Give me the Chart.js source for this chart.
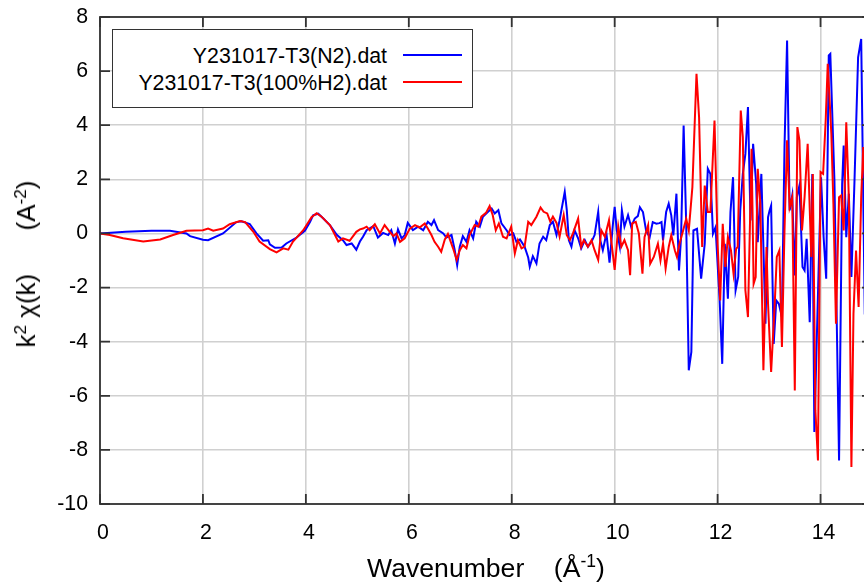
<!DOCTYPE html>
<html lang="en">
<head>
<meta charset="UTF-8">
<title>k2 chi(k) - Y231017-T3</title>
<script src="https://cdn.jsdelivr.net/npm/chart.js"></script>
<style>
    html, body {
        margin: 0;
        padding: 0;
        overflow: hidden;
        background: #fff;
    }

    .wrap {
        position: relative;
        width: 880px;
        height: 585px;
        font-family: "Liberation Sans", Arial, sans-serif;
        color: #000;
    }

    .legend {
        position: absolute;
        left: 112px;
        top: 29px;
        width: 361px;
        height: 79px;
        box-sizing: border-box;
        border: 1.6px solid #333;
        background: #fff;
        font-size: 21.3px;
    }

    .legend .row {
        position: absolute;
        left: 0;
        height: 26px;
        line-height: 26px;
        width: 100%;
    }

    .legend .txt {
        position: absolute;
        left: 0;
        width: 274px;
        text-align: right;
        white-space: nowrap;
    }

    .legend .swatch {
        position: absolute;
        left: 290px;
        width: 59px;
        height: 2px;
    }

    .xtitle {
        position: absolute;
        left: 486px;
        top: 553px;
        transform: translateX(-50%);
        font-size: 26.6px;
        line-height: 30px;
        white-space: pre;
    }

    .ytitle {
        position: absolute;
        left: 26px;
        top: 264px;
        transform: translate(-50%, -50%) rotate(-90deg);
        font-size: 26px;
        line-height: 30px;
        white-space: pre;
    }

    sup {
        font-size: 0.66em;
        line-height: 0;
        vertical-align: 0.55em;
    }
</style>
</head>
<body>
<div class="wrap">
    <canvas id="chi" width="880" height="585"></canvas>
    <div class="legend" id="legend"></div>
    <div class="ytitle">k<sup>2</sup> χ(k)      (A<sup>-2</sup>)</div>
    <div class="xtitle">Wavenumber    (Å<sup>-1</sup>)</div>
</div>

<script>
    // wavenumber k (1/A) and k^2 chi(k)
    const kN2 = [0, 0.5, 1.0, 1.36, 1.68, 1.75, 2.0, 2.1, 2.39, 2.65, 2.75, 2.91, 3.04, 3.17, 3.27, 3.3, 3.4, 3.53, 3.62, 3.82,
        3.98, 4.08, 4.14, 4.24, 4.34, 4.47, 4.6, 4.72, 4.79, 4.89, 4.98, 5.05, 5.11, 5.18, 5.31, 5.40, 5.50, 5.60, 5.66, 5.73,
        5.79, 5.86, 5.92, 5.98, 6.08, 6.18, 6.28, 6.37, 6.44, 6.49, 6.57, 6.67, 6.73, 6.83, 6.89, 6.94, 6.99, 7.05, 7.12, 7.18,
        7.25, 7.31, 7.38, 7.44, 7.54, 7.61, 7.67, 7.74, 7.80, 7.90, 7.96, 8.03, 8.09, 8.16, 8.25, 8.32, 8.35, 8.41, 8.48, 8.54,
        8.61, 8.67, 8.74, 8.80, 8.87, 8.93, 9.03, 9.07, 9.11, 9.16, 9.22, 9.29, 9.35, 9.42, 9.48, 9.55, 9.61, 9.68, 9.72, 9.77,
        9.84, 9.90, 9.97, 10.00, 10.04, 10.10, 10.14, 10.19, 10.26, 10.32, 10.39, 10.45, 10.49, 10.55, 10.61, 10.68, 10.74, 10.81, 10.87, 10.91,
        10.94, 11.0, 11.05, 11.1, 11.14, 11.2, 11.25, 11.29, 11.34, 11.39, 11.44, 11.49, 11.53, 11.6, 11.68, 11.75, 11.81, 11.86, 11.91, 11.96,
        12.04, 12.09, 12.14, 12.2, 12.25, 12.3, 12.35, 12.4, 12.44, 12.49, 12.54, 12.59, 12.64, 12.69, 12.75, 12.78, 12.85, 12.89, 12.93, 12.98,
        13.01, 13.04, 13.09, 13.14, 13.19, 13.25, 13.3, 13.35, 13.4, 13.45, 13.5, 13.54, 13.59, 13.65, 13.69, 13.73, 13.79, 13.84, 13.88, 14.01,
        14.06, 14.11, 14.16, 14.19, 14.27, 14.36, 14.42, 14.45, 14.5, 14.55, 14.6, 14.66, 14.73, 14.79, 14.86, 14.95];
    const chiN2 = [0, 0.06, 0.1, 0.1, 0, -0.1, -0.23, -0.25, 0, 0.42, 0.45, 0.35, 0, -0.27, -0.25, -0.4, -0.53, -0.52, -0.37, -0.15,
        0.1, 0.42, 0.67, 0.73, 0.55, 0.3, -0.05, -0.25, -0.43, -0.37, -0.6, -0.3, -0.12, 0.12, 0.27, -0.15, 0.02, -0.06, 0.12, -0.37,
        0.15, -0.18, -0.06, 0.39, 0.12, 0.25, 0.12, 0.43, 0.31, 0.49, 0.12, 0, -0.15, -0.06, -0.59, -1.17, -0.49, -0.1, -0.31, 0.12,
        -0.18, 0.43, 0.25, 0.62, 0.8, 0.92, 0.74, 0.86, 0.37, 0.12, -0.06, 0, -0.31, -0.22, -0.49, -0.89, -1.23, -0.84, -1.11, -0.37,
        -0.12, -0.25, 0.31, 0.43, -0.06, 0.49, 1.54, 0.86, -0.25, -0.49, 0.12, -0.18, -0.55, -0.25, -0.49, -0.31, -0.06, 0.8, -0.25, -0.62,
        0, -1.08, 0.43, 0.98, 0.12, -0.49, 0.86, 0.25, 0.68, 0.25, 0.55, 0.64, 0.97, 0.79, 0.11, -0.14, 0.42, 0.36, 0.38, 0.42,
        -0.26, 0.79, 1.1, 0.67, -0.07, 1.47, -1.37, -0.14, 3.99, 0.36, -5.06, -4.38, 0.11, 0.17, -1.67, -0.38, 2.39, 2.2, -0.01, 0.23,
        -2.48, -4.82, -0.38, -2.41, 0.79, 2.08, -2.1, -1.61, 0.85, 2.2, 2.94, 4.67, 0.48, 3.31, 1.83, -0.32, 2.2, -0.5, -3.34, 0.6,
        0.85, 1.03, -4.08, -2.48, -2.6, -3.09, 3.19, 7.13, 0.85, 1.4, -1.55, 1.34, 1.77, -1.24, -1.37, -0.2, -3.28, 2.2, -7.34, 2.08,
        -0.14, -1.67, 6.58, 6.64, 1.96, -8.39, 1.83, 3.25, -0.14, 1.47, -1.61, 1.96, 6.51, 7.19, -3.0, 1.0];

    const kH2 = [0, 0.19, 0.45, 0.84, 1.17, 1.42, 1.68, 2.0, 2.1, 2.2, 2.39, 2.52, 2.72, 2.82, 2.98, 3.1, 3.3, 3.43, 3.56, 3.66,
        3.75, 3.95, 4.11, 4.21, 4.3, 4.47, 4.63, 4.72, 4.85, 4.98, 5.05, 5.11, 5.18, 5.24, 5.34, 5.44, 5.53, 5.63, 5.70, 5.76,
        5.83, 5.92, 6.02, 6.12, 6.21, 6.31, 6.37, 6.44, 6.5, 6.57, 6.63, 6.7, 6.76, 6.86, 6.93, 6.99, 7.05, 7.12, 7.18, 7.28,
        7.35, 7.41, 7.5, 7.57, 7.63, 7.69, 7.75, 7.83, 7.9, 7.99, 8.06, 8.12, 8.19, 8.25, 8.32, 8.38, 8.48, 8.56, 8.62, 8.69,
        8.75, 8.8, 8.87, 8.93, 9.01, 9.07, 9.13, 9.19, 9.29, 9.35, 9.4, 9.48, 9.55, 9.61, 9.68, 9.74, 9.81, 9.89, 9.94, 10.0,
        10.07, 10.13, 10.19, 10.26, 10.3, 10.34, 10.41, 10.47, 10.54, 10.58, 10.65, 10.69, 10.76, 10.84, 10.89, 10.94, 10.99, 11.05, 11.1, 11.17,
        11.21, 11.26, 11.33, 11.39, 11.44, 11.51, 11.59, 11.64, 11.7, 11.75, 11.81, 11.86, 11.94, 12.0, 12.05, 12.1, 12.15, 12.2, 12.26, 12.31,
        12.36, 12.39, 12.45, 12.49, 12.54, 12.59, 12.66, 12.7, 12.74, 12.78, 12.83, 12.89, 12.95, 12.98, 13.04, 13.11, 13.15, 13.2, 13.25, 13.3,
        13.35, 13.4, 13.45, 13.5, 13.55, 13.59, 13.64, 13.69, 13.75, 13.82, 13.85, 13.9, 13.95, 14.0, 14.05, 14.1, 14.14, 14.21, 14.25, 14.3,
        14.36, 14.4, 14.45, 14.5, 14.55, 14.6, 14.64, 14.69, 14.74, 14.79, 14.83, 14.9];
    const chiH2 = [0, -0.06, -0.18, -0.3, -0.22, -0.06, 0.1, 0.12, 0.18, 0.1, 0.18, 0.34, 0.46, 0.42, 0.06, -0.3, -0.58, -0.7, -0.55, -0.6,
        -0.3, 0.12, 0.6, 0.75, 0.63, 0.3, -0.3, -0.18, -0.27, 0.06, 0.15, 0.18, 0.25, 0.12, 0.34, 0, 0.31, 0.06, -0.1, 0,
        -0.31, -0.18, 0.18, 0.31, 0.22, 0.37, 0.18, -0.06, -0.31, -0.49, -0.68, -0.22, -0.02, -0.55, -0.98, -0.62, -0.43, -0.55, -0.06, 0.31,
        0.25, 0.62, 0.76, 1.01, 0.68, 0.12, 0.37, -0.12, -0.18, 0.25, -0.74, -0.25, -0.55, -0.49, 0.43, 0.31, 0.62, 0.96, 0.8, 0.74,
        0.43, 0.62, 0.39, -0.12, 0.68, -0.06, -0.25, 0, 0.55, -0.49, -0.25, -0.49, -0.25, -0.62, -0.98, 0.12, -0.12, 0.49, -0.37, -1.35,
        0.25, -0.49, -0.25, -0.62, -1.54, 0.37, 0.43, 0, -1.49, -0.14, 0.3, -1.12, -0.87, -0.38, -1.0, -0.38, -1.3, -0.5, -0.07, -0.63,
        -0.87, -0.38, 0.11, 0.54, 0.11, 1.71, 5.9, 4.3, -0.5, 1.77, 0.79, 0.79, 4.17, -0.38, -2.48, 0.36, -1.24, -0.14, -0.63, -1.49,
        -0.57, -0.5, 4.54, 3.56, -2.1, -3.09, 3.13, -1.86, -1.61, 2.39, 1.1, -5.06, -0.5, -2.6, -5.12, -2.6, -0.87, -0.63, -4.2, 0.11,
        3.44, 0.97, 1.34, -5.8, 3.93, 3.44, 0.11, 1.34, 3.31, -0.87, 2.2, -6.54, -8.39, 2.27, 2.2, 4.17, 6.27, 3.68, 1.1, -3.34,
        1.34, 1.4, 0.11, 4.11, 1.34, -8.63, -2.97, -0.63, -2.72, 1.34, 3.19, 0.5];

    const seriesNames = ['Y231017-T3(N2).dat', 'Y231017-T3(100%H2).dat'];
    const seriesColors = ['#0000ff', '#ff0000'];

    const xTicksMin = 0, xTicksMax = 15, xStep = 2;
    const yTicksMin = -10, yTicksMax = 8, yStep = 2;

    function toPoints(ks, vals) {
        return ks.map((k, i) => ({ x: k, y: vals[i] }));
    }

    const tickFont = { family: '"Liberation Sans", Arial, sans-serif', size: 21.3 };

    // box round the plot with small inward ticks on all four sides
    const frameBox = {
        id: 'frameBox',
        afterDatasetsDraw(chart) {
            const { ctx, chartArea: a, scales } = chart;
            ctx.save();
            ctx.strokeStyle = '#333';
            ctx.lineWidth = 1.8;
            ctx.strokeRect(a.left, a.top, a.right - a.left, a.bottom - a.top);
            ctx.beginPath();
            scales.x.ticks.forEach(t => {
                const px = scales.x.getPixelForValue(t.value);
                ctx.moveTo(px, a.bottom);
                ctx.lineTo(px, a.bottom - 10);
                ctx.moveTo(px, a.top);
                ctx.lineTo(px, a.top + 10);
            });
            scales.y.ticks.forEach(t => {
                const py = scales.y.getPixelForValue(t.value);
                ctx.moveTo(a.left, py);
                ctx.lineTo(a.left + 10, py);
                ctx.moveTo(a.right, py);
                ctx.lineTo(a.right - 10, py);
            });
            ctx.stroke();
            ctx.restore();
        }
    };

    const chiChart = new Chart(document.getElementById('chi'), {
        type: 'line',
        data: {
            datasets: [{
                label: seriesNames[0],
                data: toPoints(kN2, chiN2),
                borderColor: seriesColors[0],
                borderWidth: 2,
                pointRadius: 0,
                order: 1
            }, {
                label: seriesNames[1],
                data: toPoints(kH2, chiH2),
                borderColor: seriesColors[1],
                borderWidth: 2,
                pointRadius: 0,
                order: 0
            }]
        },
        options: {
            responsive: false,
            animation: false,
            layout: { padding: { top: 17, right: 8 } },
            plugins: {
                legend: { display: false },
                tooltip: { enabled: false }
            },
            scales: {
                x: {
                    type: 'linear',
                    min: xTicksMin,
                    max: xTicksMax,
                    afterFit(scale) { scale.height = 81; },
                    ticks: {
                        stepSize: xStep,
                        includeBounds: false,
                        maxRotation: 0,
                        padding: 16,
                        labelOffset: 3,
                        color: '#000',
                        font: tickFont
                    },
                    grid: { color: '#d0d0d0', lineWidth: 1.6, drawTicks: false },
                    border: { display: false }
                },
                y: {
                    min: yTicksMin,
                    max: yTicksMax,
                    afterFit(scale) {
                        scale.width = 100;
                        // keep the top of the plot where the layout padding puts it
                        scale.paddingTop = 0;
                        scale.paddingBottom = 0;
                    },
                    ticks: {
                        stepSize: yStep,
                        padding: 12,
                        color: '#000',
                        font: tickFont
                    },
                    grid: { color: '#d0d0d0', lineWidth: 1.6, drawTicks: false },
                    border: { display: false }
                }
            }
        },
        plugins: [frameBox]
    });

    // legend: text on the left, line sample on the right
    const legend = document.getElementById('legend');
    chiChart.data.datasets.forEach((ds, i) => {
        const row = document.createElement('div');
        row.className = 'row';
        row.style.top = (13 + i * 26.7) + 'px';
        const txt = document.createElement('span');
        txt.className = 'txt';
        txt.textContent = ds.label;
        const sw = document.createElement('span');
        sw.className = 'swatch';
        sw.style.top = '11px';
        sw.style.background = ds.borderColor;
        row.appendChild(txt);
        row.appendChild(sw);
        legend.appendChild(row);
    });
</script>
</body>
</html>
